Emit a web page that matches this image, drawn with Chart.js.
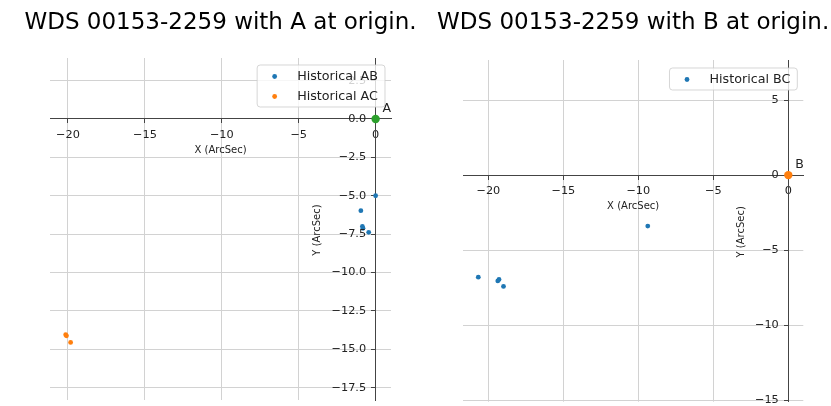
<!DOCTYPE html>
<html><head><meta charset="utf-8">
<script src="https://cdn.jsdelivr.net/npm/chart.js@4.4.1/dist/chart.umd.min.js"></script>
<style>
html,body{margin:0;padding:0;background:#fff;}
#wrap{position:relative;width:831px;height:406px;overflow:hidden;background:#fff;}
canvas{position:absolute;top:0;}
</style></head><body>
<div id="wrap">
<canvas id="cA" width="415" height="406" style="left:0;width:415px;height:406px"></canvas>
<canvas id="cB" width="416" height="406" style="left:415px;width:416px;height:406px"></canvas>
</div>
<script>
// ---- data ----
const titleA = 'WDS 00153-2259 with A at origin.';
const titleB = 'WDS 00153-2259 with B at origin.';
const xAxisTitle = 'X (ArcSec)';
const yAxisTitle = 'Y (ArcSec)';

const abX = [0.0, -0.96, -0.86, -0.82, -0.45];
const abY = [-5.0, -5.97, -7.0, -7.12, -7.38];
const acX = [-20.15, -20.1, -19.83];
const acY = [-14.05, -14.12, -14.55];
const bcX = [-20.67, -19.29, -19.37, -18.99, -9.37];
const bcY = [-6.8, -6.95, -7.05, -7.42, -3.4];
const originX = [0];
const originY = [0];

const xTickValues = [-20, -15, -10, -5, 0];
const xTickLabels = ['−20', '−15', '−10', '−5', '0'];
const yTickValuesA = [2.5, 0, -2.5, -5, -7.5, -10, -12.5, -15, -17.5];
const yTickLabelsA = ['2.5', '0.0', '−2.5', '−5.0', '−7.5', '−10.0', '−12.5', '−15.0', '−17.5'];
const yTickValuesB = [5, 0, -5, -10, -15];
const yTickLabelsB = ['5', '0', '−5', '−10', '−15'];

// ---- helpers ----
const F = '"DejaVu Sans", sans-serif';
const TEXT = '#222';
const pts = (xs, ys) => xs.map((v, i) => ({x: v, y: ys[i]}));

const deco = {
  id: 'deco',
  afterDraw(chart, args, o) {
    const {ctx, chartArea: ca, scales: {x, y}} = chart;
    const x0 = x.getPixelForValue(0), y0 = y.getPixelForValue(0);
    const cx = (ca.left + ca.right) / 2;
    ctx.save();
    // title
    ctx.fillStyle = '#000';
    ctx.font = '23px ' + F;
    ctx.textAlign = 'center';
    ctx.textBaseline = 'middle';
    ctx.fillText(o.title, cx, o.titleY);
    // y tick labels (right-aligned left of the y axis line)
    ctx.fillStyle = TEXT;
    ctx.font = '11.3px ' + F;
    ctx.textAlign = 'right';
    ctx.textBaseline = 'middle';
    y.ticks.forEach((t, i) => {
      ctx.fillText(o.yLabels[i], x0 - 9.5, y.getPixelForValue(t.value));
    });
    // axis titles
    ctx.font = '10px ' + F;
    ctx.textAlign = 'center';
    ctx.fillText(xAxisTitle, cx, y0 + o.xTitleGap);
    ctx.save();
    ctx.translate(x0 - o.yTitleGap, (ca.top + ca.bottom) / 2 + 1);
    ctx.rotate(-Math.PI / 2);
    ctx.fillText(yAxisTitle, 0, 0);
    ctx.restore();
    // origin annotation
    chart.data.datasets.forEach((ds, i) => {
      if (!ds.annotate) return;
      chart.getDatasetMeta(i).data.forEach(pt => {
        ctx.font = '12.5px ' + F;
        ctx.textAlign = 'left';
        ctx.textBaseline = 'alphabetic';
        ctx.fillStyle = TEXT;
        ctx.fillText(ds.label, pt.x + 7, pt.y - 7);
      });
    });
    // legend
    const items = chart.data.datasets.filter(d => !d.annotate);
    ctx.font = '12.7px ' + F;
    const tw = Math.max(...items.map(d => ctx.measureText(d.label).width));
    const w = 40 + tw + 7, h = 22 + (items.length - 1) * 20;
    const bx = ca.right - 6 - w, by = ca.top + o.legendTop;
    const r = 3;
    ctx.beginPath();
    ctx.moveTo(bx + r, by);
    ctx.arcTo(bx + w, by, bx + w, by + h, r);
    ctx.arcTo(bx + w, by + h, bx, by + h, r);
    ctx.arcTo(bx, by + h, bx, by, r);
    ctx.arcTo(bx, by, bx + w, by, r);
    ctx.closePath();
    ctx.fillStyle = 'rgba(255,255,255,0.8)';
    ctx.fill();
    ctx.strokeStyle = 'rgba(204,204,204,0.8)';
    ctx.lineWidth = 1;
    ctx.stroke();
    items.forEach((d, k) => {
      const cy = by + 11.5 + k * 20;
      ctx.beginPath();
      ctx.arc(bx + 17.5, cy, 2.4, 0, Math.PI * 2);
      ctx.fillStyle = d.backgroundColor;
      ctx.fill();
      ctx.fillStyle = TEXT;
      ctx.textAlign = 'left';
      ctx.textBaseline = 'middle';
      ctx.fillText(d.label, bx + 40, cy);
    });
    ctx.restore();
  }
};

function axis(min, max, pos, vals, labels, showLabels) {
  return {
    type: 'linear', min, max, position: pos,
    afterBuildTicks: s => { s.ticks = vals.map(v => ({value: v})); },
    ticks: {
      display: showLabels,
      callback: (v, i) => labels[i],
      font: {family: F, size: 11.3}, color: TEXT, padding: 5,
      autoSkip: false, maxRotation: 0, minRotation: 0
    },
    grid: {color: '#d2d2d2', lineWidth: 1, tickColor: '#444', tickLength: 4, drawTicks: true},
    border: {display: true, color: '#444', width: 1}
  };
}

function makeChart(id, datasets, xr, yr, yVals, yLabels, pad, opts) {
  opts.yLabels = yLabels;
  return new Chart(document.getElementById(id), {
    type: 'scatter',
    data: {datasets},
    options: {
      responsive: false, animation: false, devicePixelRatio: 1,
      layout: {padding: pad},
      plugins: {
        legend: {display: false}, tooltip: {enabled: false}, title: {display: false},
        deco: opts
      },
      scales: {
        x: axis(xr[0], xr[1], {y: 0}, xTickValues, xTickLabels, true),
        y: axis(yr[0], yr[1], {x: 0}, yVals, yLabels, false)
      }
    },
    plugins: [deco]
  });
}

const ptStyle = (c, r) => ({backgroundColor: c, borderColor: c, borderWidth: 0, pointRadius: r, pointHoverRadius: r});

makeChart('cA', [
  Object.assign({label: 'Historical AB', data: pts(abX, abY)}, ptStyle('#1f77b4', 2.4)),
  Object.assign({label: 'Historical AC', data: pts(acX, acY)}, ptStyle('#ff7f0e', 2.4)),
  Object.assign({label: 'A', annotate: true, data: pts(originX, originY)}, ptStyle('#2ca02c', 4.2))
], [-21.17, 1.0], [-18.3, 3.97], yTickValuesA, yTickLabelsA,
  {left: 50, right: 24, top: 58, bottom: 6},
  {title: titleA, titleY: 23, xTitleGap: 31, yTitleGap: 58.7, legendTop: 7});

makeChart('cB', [
  Object.assign({label: 'Historical BC', data: pts(bcX, bcY)}, ptStyle('#1f77b4', 2.4)),
  Object.assign({label: 'B', annotate: true, data: pts(originX, originY)}, ptStyle('#ff7f0e', 4.2))
], [-21.69, 1.0], [-15.1, 7.67], yTickValuesB, yTickLabelsB,
  {left: 48, right: 27.7, top: 60, bottom: 4.3},
  {title: titleB, titleY: 23, xTitleGap: 31.7, yTitleGap: 46.6, legendTop: 8});
</script>
</body></html>
